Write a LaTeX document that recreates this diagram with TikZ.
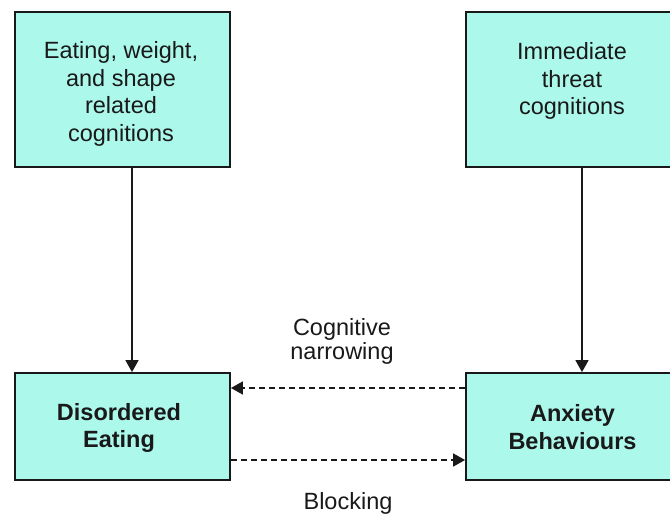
\documentclass[tikz,border=0pt]{standalone}
\usepackage{fontspec}
\setmainfont{Liberation Sans}
\usetikzlibrary{arrows.meta,calc}
\definecolor{boxfill}{RGB}{172,248,235}
\definecolor{ink}{RGB}{25,25,25}
\tikzset{
  box/.style={draw=ink,line width=1.8pt,fill=boxfill,minimum width=215pt,minimum height=155pt,inner sep=0pt},
  lowbox/.style={box,minimum height=107pt},
  boxtext/.style={align=center,font=\fontsize{23.5}{27.5}\selectfont,text=ink,inner sep=0pt},
  boldtext/.style={boxtext,font=\fontsize{23.5}{27.5}\selectfont\bfseries},
  lbl/.style={align=center,font=\fontsize{23.5}{24}\selectfont,text=ink,inner sep=0pt},
  arr/.style={draw=ink,line width=1.5pt,-{Triangle[length=12pt,width=13pt]}},
  darr/.style={arr,dash pattern=on 6pt off 4pt}
}
\begin{document}
\begin{tikzpicture}[x=1pt,y=-1pt]
  \useasboundingbox (0,0) rectangle (670,515);
  % the four boxes
  \node[box] (tl) at (122.5,89.5) {};
  \node[box] (tr) at (573.5,89.5) {};
  \node[lowbox] (bl) at (122.5,426.5) {};
  \node[lowbox] (br) at (573.5,426.5) {};
  % box contents
  \node[boxtext] (tltext) at (121,94) {Eating, weight,\\and shape\\related\\cognitions};
  \node[boxtext] (trtext) at (572,81) {Immediate\\threat\\cognitions};
  \node[boldtext] (bltext) at (119,428) {Disordered\\Eating};
  \node[boldtext] (brtext) at (572.5,427) {Anxiety\\Behaviours};
  % vertical arrows
  \draw[arr] ($(tl.south)+(9.5,0)$) -- ($(bl.north)+(9.5,0)$);
  \draw[arr] ($(tr.south)+(8.5,0)$) -- ($(br.north)+(8.5,0)$);
  % dashed horizontal arrows
  \draw[darr] ($(br.west)+(0,-38.5)$) -- ($(bl.east)+(0,-38.5)$);
  \draw[darr] ($(bl.east)+(0,33.5)$) -- ($(br.west)+(0,33.5)$);
  % arrow labels
  \node[lbl] (narrow) at (342,341) {Cognitive\\narrowing};
  \node[lbl] (block) at (348,503) {Blocking};
\end{tikzpicture}
\end{document}
